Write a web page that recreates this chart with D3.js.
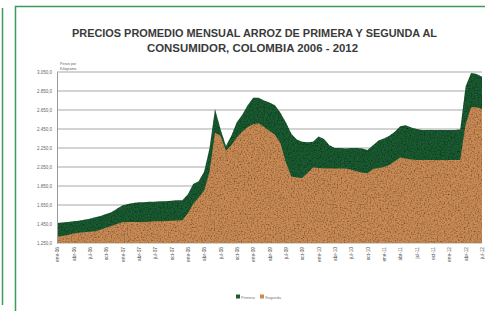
<!DOCTYPE html>
<html>
<head>
<meta charset="utf-8">
<script src="https://cdn.jsdelivr.net/npm/d3@7"></script>
<style>
  body { margin:0; background:#fff; }
  svg { display:block; font-family:"Liberation Sans", Arial, sans-serif; }
</style>
</head>
<body>
<svg id="svg"></svg>
<script>
// data: precio mensual (pesos por kilogramo), ene-06 .. jul-12
const monthNames = ['ene','feb','mar','abr','may','jun','jul','ago','sep','oct','nov','dic']
const years = ['06','07','08','09','10','11','12']
const primera = [1460,1465,1470,1478,1485,1495,1505,1520,1535,1555,1575,1610,
                 1645,1660,1670,1680,1680,1685,1685,1690,1690,1695,1700,1700,
                 1760,1870,1900,2000,2250,2660,2450,2270,2380,2520,2600,2700,
                 2780,2780,2750,2730,2700,2620,2520,2400,2340,2315,2310,2315,
                 2370,2345,2280,2250,2250,2245,2250,2250,2245,2230,2280,2330,
                 2350,2380,2420,2480,2490,2465,2450,2440,2440,2440,2440,2440,
                 2440,2440,2445,2900,3040,3030,3000]
const segunda = [1315,1325,1335,1350,1358,1362,1368,1375,1390,1410,1430,1450,
                 1468,1470,1470,1470,1472,1475,1478,1480,1482,1485,1488,1490,
                 1560,1660,1730,1800,2000,2410,2380,2220,2280,2360,2420,2470,
                 2500,2510,2470,2430,2390,2300,2100,1950,1940,1935,1990,2045,
                 2040,2035,2035,2035,2035,2035,2020,2005,1990,1985,2030,2040,
                 2050,2070,2110,2150,2140,2130,2125,2125,2125,2125,2125,2125,
                 2125,2125,2125,2500,2680,2680,2660]
const yTicks = [1250,1450,1650,1850,2050,2250,2450,2650,2850,3050]

let categories = []
years.forEach(y => monthNames.forEach(m => categories.push(m + '-' + y)))
categories = categories.slice(0, primera.length)
const xTicks = categories.filter((_, i) => i % 3 === 0)

let width = 485, height = 311
let plot = {left:57, right:482, top:72, bottom:243}
let svg = d3.select('#svg').attr('width', width).attr('height', height)

// grain texture like the scanned fills
let defs = svg.append('defs')
let grain = defs.append('filter').attr('id', 'grain').attr('x', 0).attr('y', 0).attr('width', 1).attr('height', 1)
grain.append('feTurbulence').attr('type', 'fractalNoise').attr('baseFrequency', 0.7).attr('numOctaves', 2).attr('seed', 3).attr('result', 'noise')
grain.append('feColorMatrix').attr('in', 'noise').attr('type', 'matrix')
   .attr('values', '0 0 0 0 0  0 0 0 0 0  0 0 0 0 0  1.6 0 0 0 -0.7').attr('result', 'spots')
grain.append('feComposite').attr('in', 'spots').attr('in2', 'SourceGraphic').attr('operator', 'in').attr('result', 'spotsIn')
let merge = grain.append('feMerge')
merge.append('feMergeNode').attr('in', 'SourceGraphic')
merge.append('feMergeNode').attr('in', 'spotsIn')

// frames
svg.append('line').attr('x1',2.5).attr('x2',2.5).attr('y1',8).attr('y2',305)
   .attr('stroke','#3a9a5a').attr('stroke-width',1.5)
svg.append('rect').attr('x',15.5).attr('y',6.5).attr('width',480).attr('height',320)
   .attr('fill','none').attr('stroke','#3a9a5a').attr('stroke-width',1.5)

// title
svg.append('text').attr('x',72).attr('y',37)
   .attr('font-size',10.2).attr('font-weight','bold').attr('fill','#3a3a3a')
   .attr('textLength',365).attr('lengthAdjust','spacingAndGlyphs')
   .text('PRECIOS PROMEDIO MENSUAL ARROZ DE PRIMERA Y SEGUNDA AL')
svg.append('text').attr('x',147).attr('y',52)
   .attr('font-size',10.2).attr('font-weight','bold').attr('fill','#3a3a3a')
   .attr('textLength',211).attr('lengthAdjust','spacingAndGlyphs')
   .text('CONSUMIDOR, COLOMBIA 2006 - 2012')

let xScale = d3.scalePoint().domain(categories).range([plot.left, plot.right])
let yScale = d3.scaleLinear().domain([1250, 3050]).range([plot.bottom, plot.top])

// gridlines
svg.append('g').selectAll('line').data(yTicks).enter().append('line')
   .attr('x1', plot.left).attr('x2', plot.right)
   .attr('y1', d => yScale(d)).attr('y2', d => yScale(d))
   .attr('stroke', '#c4c4c4').attr('stroke-width', 1.4)

let area = (series) => d3.area()
   .x((_, i) => xScale(categories[i]))
   .y0(yScale(1250)).y1(d => yScale(d))(series)

svg.append('path').attr('d', area(primera)).attr('fill', '#1f5a31').attr('filter', 'url(#grain)')
svg.append('path').attr('d', area(segunda)).attr('fill', '#c98a55').attr('filter', 'url(#grain)')

// y axis
const loc = d3.formatLocale({decimal:',', thousands:'.', grouping:[3], currency:['$','']})
let yAxis = d3.axisLeft(yScale).tickValues(yTicks).tickFormat(loc.format(',.1f')).tickSize(0).tickPadding(5)
let yGroup = svg.append('g').attr('transform', `translate(${plot.left},0)`).call(yAxis)
yGroup.select('.domain').attr('stroke', '#999')
yGroup.selectAll('text').attr('font-size', 4.5).attr('fill', '#666')

svg.append('text').attr('x', 60).attr('y', 65).attr('font-size', 3.6).attr('fill', '#666').text('Pesos por')
svg.append('text').attr('x', 60).attr('y', 69.5).attr('font-size', 3.6).attr('fill', '#666').text('Kilogramo')

// x axis
let xAxis = d3.axisBottom(xScale).tickValues(xTicks).tickSize(0).tickPadding(4)
let xGroup = svg.append('g').attr('transform', `translate(0,${plot.bottom})`).call(xAxis)
xGroup.select('.domain').remove()
xGroup.selectAll('text').attr('font-size', 4.8).attr('fill', '#555')
   .attr('transform', 'rotate(-90)').attr('text-anchor', 'end')
   .attr('dx', '-4').attr('dy', '0.35em').attr('x', 0).attr('y', 0)

// legend
let legend = svg.append('g').attr('transform', 'translate(236,297)')
legend.append('rect').attr('x', 0).attr('y', -2.5).attr('width', 4).attr('height', 4).attr('fill', '#1f5a31')
legend.append('text').attr('x', 5).attr('y', 1.5).attr('font-size', 4).attr('fill', '#777').text('Primera')
legend.append('rect').attr('x', 24).attr('y', -2.5).attr('width', 4).attr('height', 4).attr('fill', '#c98a55')
legend.append('text').attr('x', 29).attr('y', 1.5).attr('font-size', 4).attr('fill', '#777').text('Segunda')
</script>
</body>
</html>
